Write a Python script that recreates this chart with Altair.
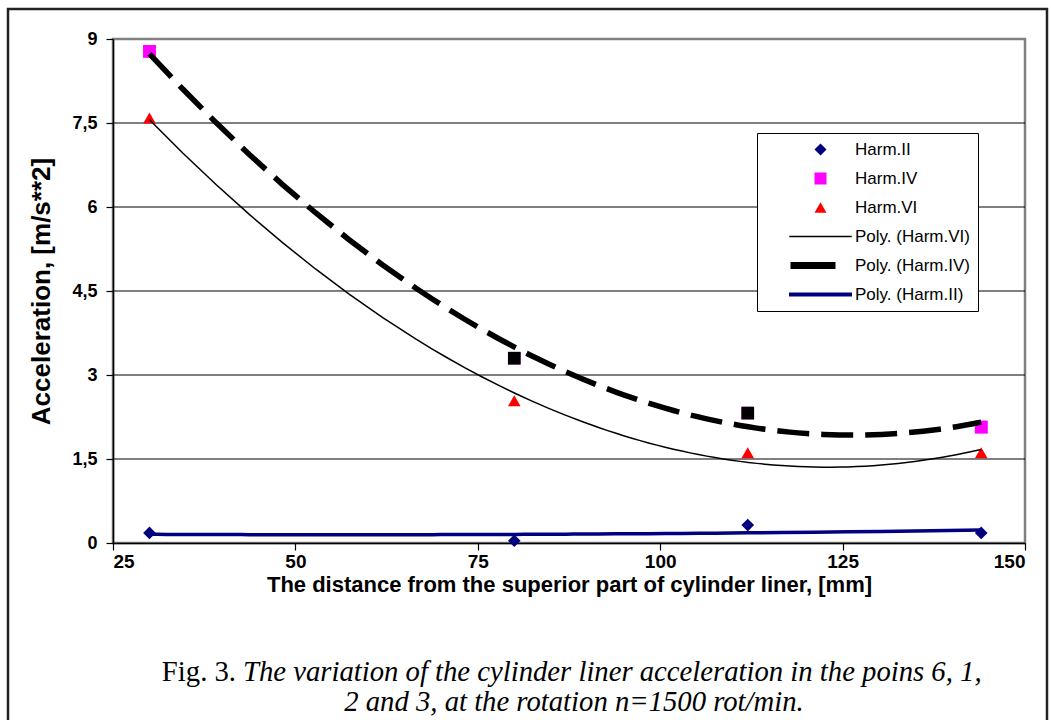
import altair as alt
import pandas as pd

# ---- data ----
x_mm = [30, 80, 112, 144]
harm2 = [0.18, 0.04, 0.32, 0.18]
harm4 = [8.78, 3.30, 2.32, 2.07]
harm6 = [7.59, 2.54, 1.61, 1.61]
harm4_point_colors = ["#FF00FF", "#000000", "#000000", "#FF00FF"]

series_names = ["Harm.II", "Harm.IV", "Harm.VI",
                "Poly. (Harm.VI)", "Poly. (Harm.IV)", "Poly. (Harm.II)"]
series_colors = ["#000080", "#FF00FF", "#FF0000", "#000000", "#000000", "#000080"]
series_shapes = ["diamond", "square", "triangle-up",
                 "M-5.2,-0.13L5.2,-0.13L5.2,0.13L-5.2,0.13Z",
                 "M-5,-0.58L2.5,-0.58L2.5,0.58L-5,0.58Z",
                 "M-5.25,-0.33L5.25,-0.33L5.25,0.33L-5.25,0.33Z"]

x_ticks = [25, 50, 75, 100, 125, 150]
y_ticks = [0, 1.5, 3, 4.5, 6, 7.5, 9]
grid_values = [1.5, 3, 4.5, 6, 7.5]

x_title = "The distance from the superior part of cylinder liner, [mm]"
y_title = "Acceleration, [m/s**2]"
caption_lead = "Fig. 3."
caption_line1 = "The variation of the cylinder liner acceleration in the poins 6, 1,"
caption_line2 = "2 and 3, at the rotation n=1500 rot/min."

rows = []
for s, vals in (("Harm.II", harm2), ("Harm.IV", harm4), ("Harm.VI", harm6)):
    for i, (xv, yv) in enumerate(zip(x_mm, vals)):
        pc = harm4_point_colors[i] if s == "Harm.IV" else series_colors[series_names.index(s)]
        rows.append({"series": s, "x": xv, "y": yv, "pcolor": pc})
df = pd.DataFrame(rows)

SANS = "Liberation Sans"
SERIF = "Liberation Serif"

xscale = alt.Scale(domain=[25, 150], nice=False, zero=False)
yscale = alt.Scale(domain=[0, 9], nice=False)

x_axis = alt.Axis(values=x_ticks, title=x_title, grid=False, labelFont=SANS,
                  labelFontSize=19, labelFontWeight="bold", labelColor="black",
                  titleFont=SANS, titleFontSize=22, titleFontWeight="bold",
                  titleColor="black", titlePadding=3, labelPadding=2,
                  tickSize=7, tickColor="black", domainColor="black",
                  domainWidth=1.5, tickWidth=1.2)
y_axis = alt.Axis(values=y_ticks, title=y_title, grid=False, labelFont=SANS,
                  labelFontSize=18, labelFontWeight="bold", labelColor="black",
                  labelExpr="replace(toString(datum.value), '.', ',')",
                  titleFont=SANS, titleFontSize=26, titleFontWeight="bold",
                  titleColor="black", titlePadding=17, labelPadding=9,
                  tickSize=7, tickColor="black", domainColor="black",
                  domainWidth=1.5, tickWidth=1.2)

legend = alt.Legend(orient="none", legendX=644, legendY=94, title=None,
                    fillColor="white", strokeColor="black", padding=8,
                    symbolSize=144, symbolStrokeWidth=0, symbolOffset=47,
                    labelOffset=26, labelFontSize=17, labelFont=SANS,
                    labelColor="black", rowPadding=11)

base = alt.Chart(df)

grid = alt.Chart(pd.DataFrame({"g": grid_values})).mark_rule(
    color="black", strokeWidth=1).encode(y=alt.Y("g:Q", scale=yscale, axis=y_axis))

points = base.mark_point(filled=True, opacity=1, size=160).encode(
    x=alt.X("x:Q", scale=xscale, axis=x_axis),
    y=alt.Y("y:Q", scale=yscale, axis=y_axis),
    color=alt.Color("series:N", scale=alt.Scale(domain=series_names, range=series_colors), legend=legend),
    shape=alt.Shape("series:N", scale=alt.Scale(domain=series_names, range=series_shapes), legend=legend),
)

overlay = base.transform_filter(alt.datum.series == "Harm.IV").mark_point(
    filled=True, opacity=1, size=160, shape="square").encode(
    x=alt.X("x:Q", scale=xscale, axis=x_axis),
    y=alt.Y("y:Q", scale=yscale, axis=y_axis),
    color=alt.Color("pcolor:N", scale=None),
)

def trend(name, **style):
    return base.transform_filter(alt.datum.series == name).transform_regression(
        "x", "y", method="poly", order=2).mark_line(**style).encode(
        x=alt.X("x:Q", scale=xscale, axis=x_axis),
        y=alt.Y("y:Q", scale=yscale, axis=y_axis))

line6 = trend("Harm.VI", color="black", strokeWidth=1.5)
line4 = trend("Harm.IV", color="black", strokeWidth=5.5, strokeDash=[32, 12])
line2 = trend("Harm.II", color="#000080", strokeWidth=3.5)

one = pd.DataFrame({"k": [0]})
frame = alt.Chart(one).mark_rect(fillOpacity=0, stroke="#222222", strokeWidth=2.5).encode(
    x=alt.value(-105), x2=alt.value(934), y=alt.value(-30), y2=alt.value(720))

cap_lead = alt.Chart(one).mark_text(font=SERIF, fontSize=28.7, align="right",
                                    baseline="alphabetic", color="black").encode(
    x=alt.value(123), y=alt.value(642), text=alt.value(caption_lead))
cap1 = alt.Chart(one).mark_text(font=SERIF, fontSize=28.7, fontStyle="italic", align="left",
                                baseline="alphabetic", color="black").encode(
    x=alt.value(130), y=alt.value(642), text=alt.value(caption_line1))
cap2 = alt.Chart(one).mark_text(font=SERIF, fontSize=28.7, fontStyle="italic", align="center",
                                baseline="alphabetic", color="black").encode(
    x=alt.value(461), y=alt.value(672), text=alt.value(caption_line2))

chart = alt.layer(frame, grid, points, overlay, line6, line4, line2, cap_lead, cap1, cap2).properties(
    width=912, height=504,
    padding={"left": 113, "top": 39, "right": 26, "bottom": 177},
    autosize=alt.AutoSizeParams(type="none"),
    background="white",
).configure_view(stroke="#808080", strokeWidth=2.5)

chart.save("out.html", embed_options={"renderer": "svg", "actions": False})
